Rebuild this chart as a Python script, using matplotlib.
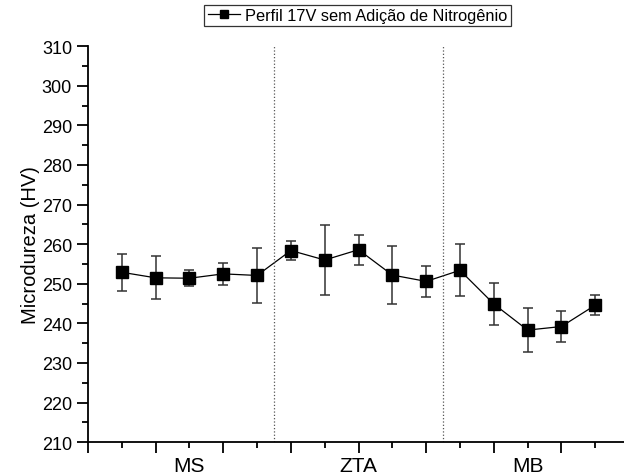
import matplotlib.pyplot as plt
import numpy as np
from matplotlib.ticker import MultipleLocator

plt.rcParams['font.family'] = ['Liberation Sans', 'DejaVu Sans']

# microhardness profile, 15 indentations across the joint
posicao = np.arange(1, 16)
dureza = [252.9, 251.5, 251.4, 252.5, 252.1,
          258.4, 256.0, 258.6, 252.2, 250.6,
          253.4, 244.9, 238.3, 239.2, 244.6]
desvio = [4.7, 5.4, 2.0, 2.8, 6.9,
          2.3, 8.9, 3.8, 7.3, 4.0,
          6.6, 5.3, 5.5, 3.9, 2.6]

regioes = ['MS', 'ZTA', 'MB']
centro_regioes = [3, 8, 13]
limites = [5.5, 10.5]

fig = plt.figure(figsize=(6.24, 4.77), dpi=100)
ax = fig.add_axes([0.141, 0.071, 0.859, 0.830])

ax.errorbar(posicao, dureza, yerr=desvio, fmt='none', ecolor='#333333',
            elinewidth=1.1, capsize=3.5, capthick=1.1)
ax.plot(posicao, dureza, color='black', marker='s', markersize=8.5,
        linewidth=0.9, label='Perfil 17V sem Adição de Nitrogênio')

for xl in limites:
    ax.axvline(xl, color='#555555', linestyle=':', linewidth=0.9)

ax.set_xlim(0, 15.85)
ax.set_ylim(210, 310)
ax.yaxis.set_major_locator(MultipleLocator(10))
ax.yaxis.set_minor_locator(MultipleLocator(5))
ax.xaxis.set_major_locator(MultipleLocator(2))
ax.xaxis.set_minor_locator(MultipleLocator(1))
ax.set_xticklabels([])
ax.tick_params(which='major', direction='out', length=8, width=1.3, labelsize=13)
ax.tick_params(which='minor', direction='out', length=4.5, width=1.3)

for c, r in zip(centro_regioes, regioes):
    ax.text(c, -0.035, r, transform=ax.get_xaxis_transform(),
            ha='center', va='top', fontsize=15)

ax.spines['top'].set_visible(False)
ax.spines['right'].set_visible(False)
ax.spines['left'].set_linewidth(1.3)
ax.spines['bottom'].set_linewidth(1.3)

ax.set_ylabel('Microdureza (HV)', fontsize=14.5, labelpad=1)

leg = ax.legend(loc='upper center', bbox_to_anchor=(0.503, 1.105),
                fontsize=11.8, frameon=True, fancybox=False,
                edgecolor='black', borderpad=0.2, handlelength=2.0,
                handletextpad=0.3, borderaxespad=0, markerscale=0.75)
leg.get_frame().set_linewidth(0.9)

fig.savefig('out.png', dpi=100)
